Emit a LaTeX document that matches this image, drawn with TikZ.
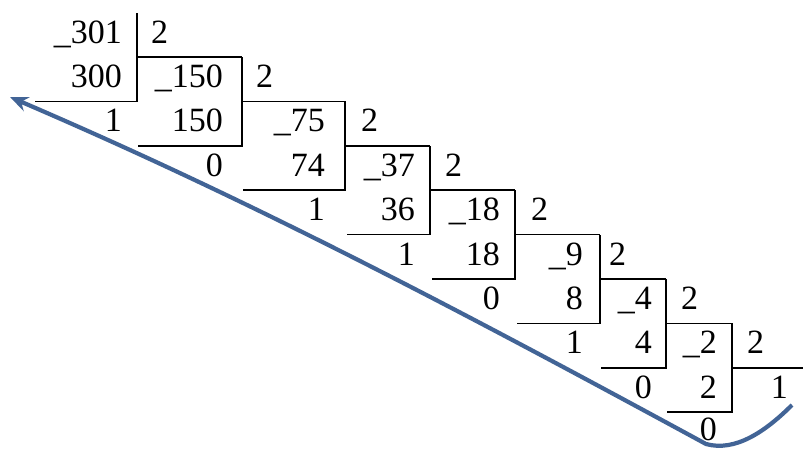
\documentclass[tikz,border=0pt]{standalone}
\usepackage{fontspec}
\setmainfont{Liberation Serif}
\usetikzlibrary{arrows.meta}
\definecolor{arrowblue}{RGB}{66,100,150}
\begin{document}
\begin{tikzpicture}[x=1pt,y=-1pt,
  num/.style={font=\fontsize{34}{34}\selectfont, inner sep=0pt, anchor=base east},
  divisor/.style={font=\fontsize{34}{34}\selectfont, inner sep=0pt, anchor=base west},
  rulestroke/.style={line width=1.6pt, black},
  curvearrow/.style={line width=4.2pt, arrowblue, -{Stealth[length=18pt,width=15pt]}}]
\useasboundingbox (0,0) rectangle (803,448);
\fill[white] (0,0) rectangle (803,448);
\foreach \kk/\xx/\xn/\cx/\dx/\lx/\dv/\sb/\rr in {
  0/137/242/122/151/35/301/300/1,
  1/242/345/223/256/138/150/150/0,
  2/345/430/325/361/243/75/74/1,
  3/430/515/415/445/347/37/36/1,
  4/515/600/500/531/432/18/18/0,
  5/600/666/583/609/517/9/8/1,
  6/666/732/652/681/601/4/4/0,
  7/732/803/717/747/667/2/2/0}{
  % dividend, subtrahend, remainder, divisor
  \node[num] (dv\kk) at (\cx, 43+44.4*\kk) {\_\dv};
  \node[num] (sb\kk) at (\cx, 87.4+44.4*\kk) {\sb};
  \node[num] (rm\kk) at ({\cx}, {min(131.8+44.4*\kk,440)}) {\rr};
  \node[divisor] (two\kk) at (\dx, 43+44.4*\kk) {2};
  % division bracket
  \draw[rulestroke] (\lx, 101.4+44.4*\kk) -- (\xx, 101.4+44.4*\kk) -- (\xx, 12.6+44.4*\kk);
  \draw[rulestroke] (\xx, 57+44.4*\kk) -- (\xn, 57+44.4*\kk);
}
\node[num] (q) at (788, 398.2) {1};
\coordinate (start) at (792,405);
\coordinate (tip) at (10,97);
\draw[curvearrow] (start) .. controls (765,432) and (735,452) .. (706,444)
  .. controls (450,305) and (250,200) .. (tip);
\end{tikzpicture}
\end{document}
